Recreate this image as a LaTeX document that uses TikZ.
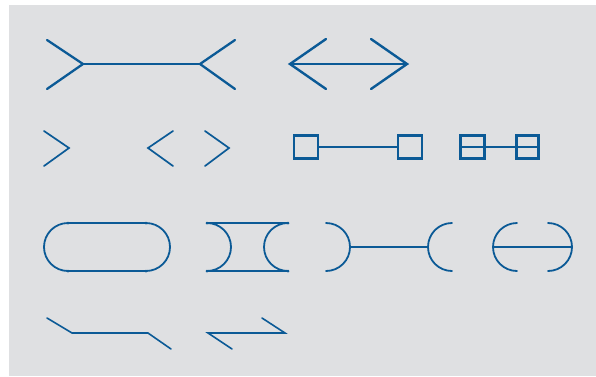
\documentclass[tikz,border=0pt]{standalone}
\begin{document}
\begin{tikzpicture}[x=1pt,y=-1pt,
  ln/.style={draw=lnblue,line width=2pt,line cap=round,line join=miter},
  thk/.style={ln,line width=2.8pt},
  thn/.style={ln,line width=1.7pt},
  dot/.style={fill=lnblue,circle,inner sep=0pt,minimum size=3pt}]
\definecolor{lnblue}{HTML}{0B5A96}
\definecolor{bggray}{HTML}{DFE0E2}
\useasboundingbox (0,0) rectangle (596,376);
\fill[white] (0,0) rectangle (596,376);
\fill[bggray] (9,5) rectangle (596,376);
% 1 fork
\coordinate (fa1) at (47,40); \coordinate (fa2) at (47,89);
\coordinate (fl) at (83,64); \coordinate (fr) at (200,64);
\coordinate (fb1) at (235,40); \coordinate (fb2) at (235,89);
\draw[ln,line width=2.3pt] (fa1) -- (fl) -- (fa2);
\draw[ln,line width=2.3pt] (fb1) -- (fr) -- (fb2);
\draw[thk] (fl) -- (fr);
% 2 double arrow
\coordinate (dl) at (290,64); \coordinate (dr) at (407,64);
\draw[thk] (dl) -- (dr);
\draw[ln,line width=2.4pt] (326,39) -- (dl) -- (326,89);
\draw[ln,line width=2.4pt] (371,39) -- (dr) -- (371,89);
% 3 chevrons
\draw[thn] (44,131) -- (69,148) -- (44,166);
\draw[thn] (173,131) -- (148,148) -- (173,166);
\draw[thn] (205,131) -- (229,148) -- (205,166);
% 4 squares
\node[draw=lnblue,line width=2.2pt,minimum width=24pt,minimum height=23pt,inner sep=0pt] (s1) at (306,147) {};
\node[draw=lnblue,line width=2.2pt,minimum width=24pt,minimum height=23pt,inner sep=0pt] (s2) at (410,147) {};
\draw[ln,line width=1.8pt] (s1.east) -- (s2.west);
\node[draw=lnblue,line width=2.2pt,minimum width=24pt,minimum height=23pt,inner sep=0pt] (s3) at (472.5,147) {};
\node[draw=lnblue,line width=2.2pt,minimum width=22pt,minimum height=23pt,inner sep=0pt] (s4) at (527.5,147) {};
\draw[ln,line width=1.8pt,line cap=butt] (s3.west) -- (s4.east);
% 5 stadium
\draw[ln,line width=1.8pt] (68,223) -- (146,223) arc[start angle=90,end angle=-90,radius=24pt] -- (68,271) arc[start angle=270,end angle=90,radius=24pt] -- cycle;
\foreach \p in {(68,223),(146,223),(68,271),(146,271)} \node[dot] at \p {};
% 6 bone
\draw[ln,line width=1.8pt] (207,223) -- (288,223);
\draw[ln,line width=1.8pt] (207,271) -- (288,271);
\draw[ln,line width=1.8pt] (207,223) arc[start angle=90,end angle=-90,radius=24pt];
\draw[ln,line width=1.8pt] (288,223) arc[start angle=90,end angle=270,radius=24pt];
\foreach \p in {(207,223),(288,223),(207,271),(288,271)} \node[dot] at \p {};
% 7 brackets with line
\coordinate (b1) at (350,247); \coordinate (b2) at (428,247);
\draw[ln,line width=1.8pt] (326,223) arc[start angle=90,end angle=-90,radius=24pt];
\draw[ln,line width=1.8pt] (452,223) arc[start angle=90,end angle=270,radius=24pt];
\draw[ln,line width=1.8pt] (b1) -- (b2);
% 8 theta
\coordinate (t1) at (493,247); \coordinate (t2) at (572,247);
\draw[ln,line width=1.8pt] (517,223) arc[start angle=90,end angle=270,radius=24pt];
\draw[ln,line width=1.8pt] (548,223) arc[start angle=90,end angle=-90,radius=24pt];
\draw[ln,line width=1.8pt] (t1) -- (t2);
% 9 bottom
\draw[ln,line width=1.6pt] (47,318) -- (72,333) -- (148,333) -- (171,349);
\draw[ln,line width=1.6pt] (262,318) -- (285,333) -- (208,333) -- (232,349);
\end{tikzpicture}
\end{document}
